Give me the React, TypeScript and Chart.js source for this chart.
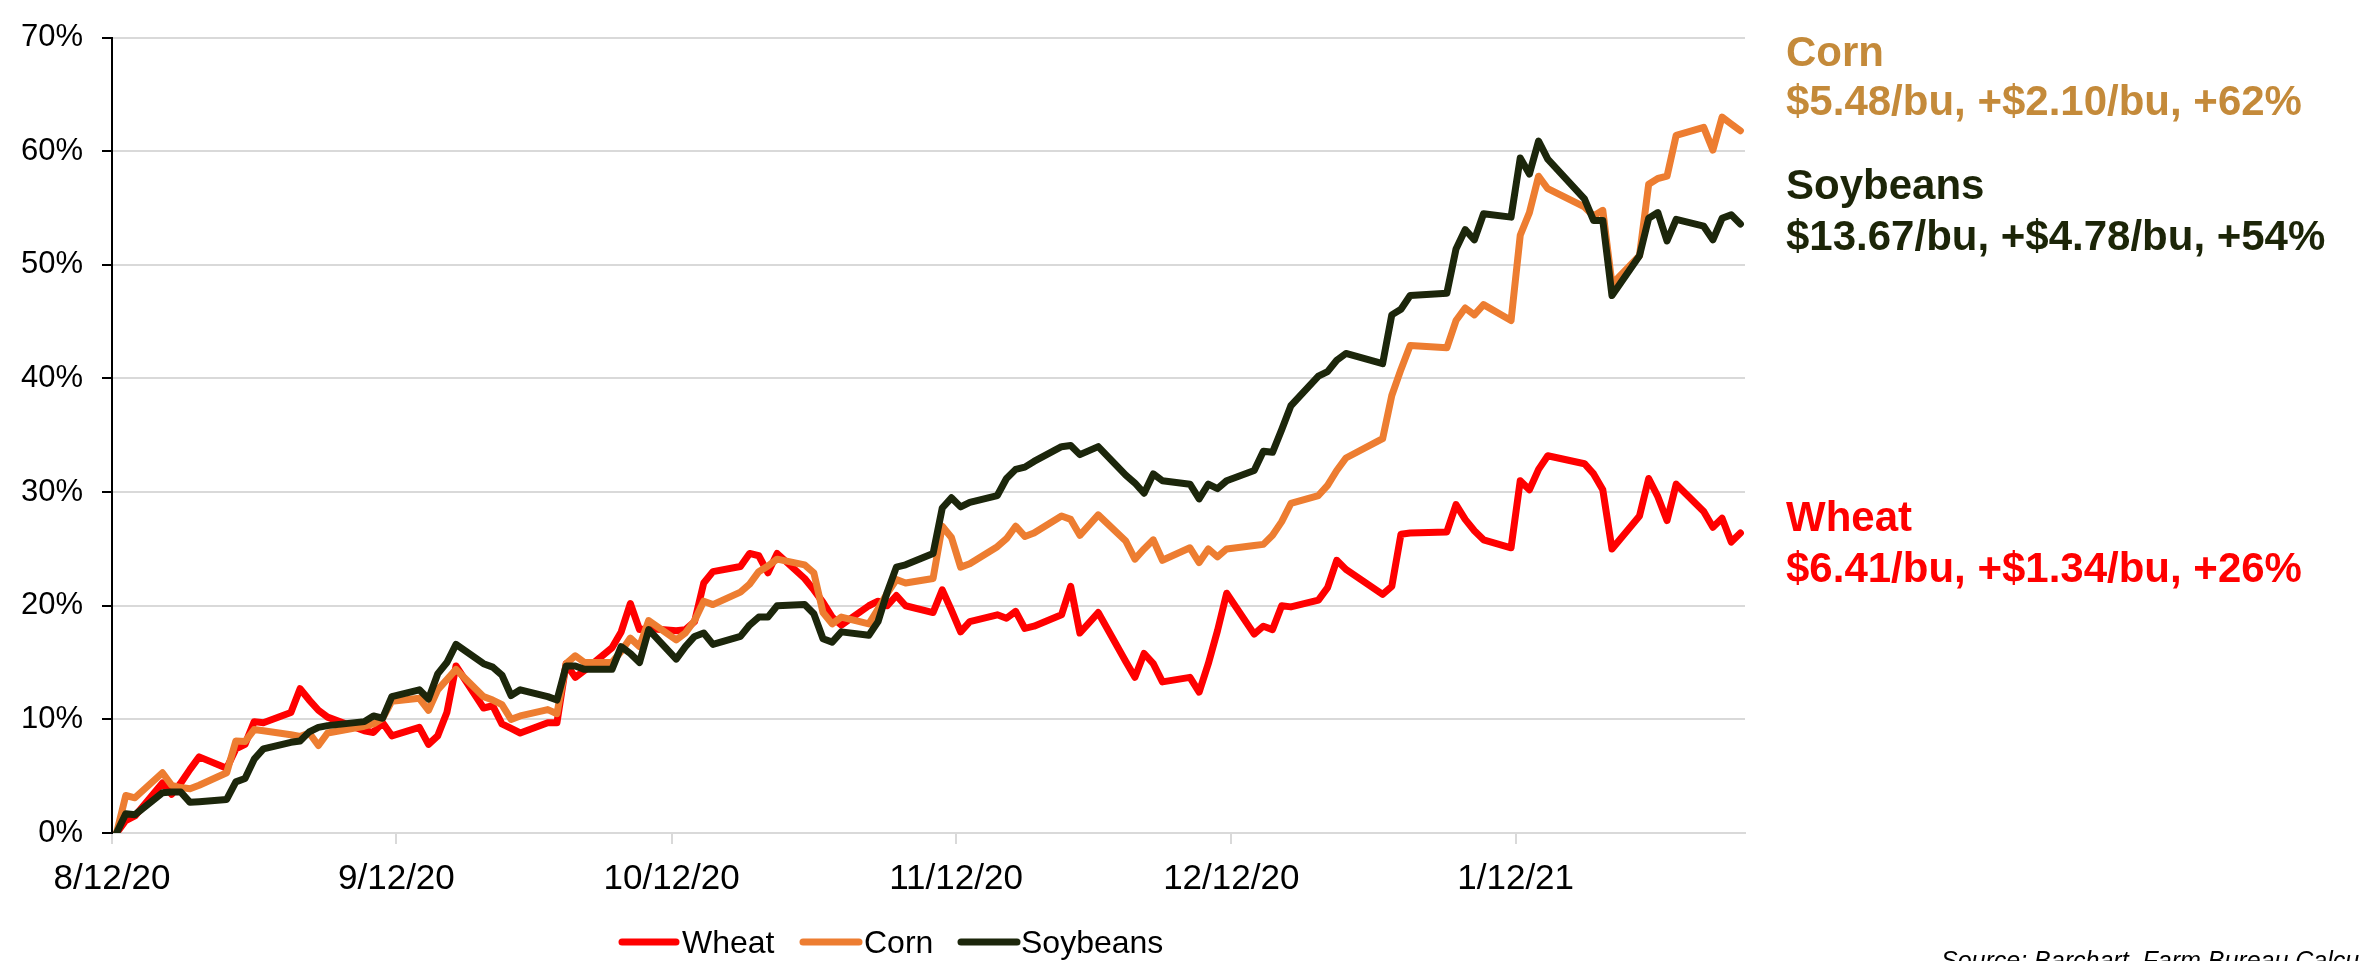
import React, { useEffect, useRef } from "react";
import { Chart, registerables } from "chart.js";

Chart.register(...registerables);

// Day offsets from 8/12/20 (trading days)
const tradingDays = [
  0, 1, 2, 5, 6, 7, 8, 9, 12, 13,
  14, 15, 16, 19, 20, 21, 22, 23, 27, 28,
  29, 30, 33, 34, 35, 36, 37, 40, 41, 42,
  43, 44, 47, 48, 49, 50, 51, 54, 55, 56,
  57, 58, 61, 62, 63, 64, 65, 68, 69, 70,
  71, 72, 75, 76, 77, 78, 79, 82, 83, 84,
  85, 86, 89, 90, 91, 92, 93, 96, 97, 98,
  99, 100, 103, 104, 105, 107, 110, 111, 112, 113,
  114, 117, 118, 119, 120, 121, 124, 125, 126, 127,
  128, 131, 132, 133, 134, 138, 139, 140, 141, 145,
  146, 147, 148, 149, 152, 153, 154, 155, 156, 160,
  161, 162, 163, 166, 167, 168, 169, 170, 173, 174,
  175, 176, 177,
];

const wheat = [
  0, 1.1, 1.5, 4.4, 3.4, 4.4, 5.6, 6.7, 5.7, 7.4,
  7.8, 9.8, 9.7, 10.6, 12.7, 11.7, 10.8, 10.2, 9.0, 8.85,
  9.7, 8.55, 9.3, 7.8, 8.55, 10.6, 14.7, 11.0, 11.2, 9.6,
  9.2, 8.8, 9.7, 9.7, 14.9, 13.7, 14.3, 16.3, 17.7, 20.2,
  17.9, 18.0, 17.8, 17.9, 18.6, 22.0, 23.0, 23.45, 24.6, 24.4,
  22.9, 24.6, 22.4, 21.4, 20.3, 19.0, 18.3, 20.0, 20.4, 20.0,
  20.9, 20.0, 19.4, 21.4, 19.6, 17.7, 18.6, 19.2, 18.9, 19.5,
  18.0, 18.2, 19.2, 21.7, 17.6, 19.4, 15.1, 13.7, 15.8, 14.9,
  13.3, 13.7, 12.4, 14.9, 17.8, 21.1, 17.5, 18.2, 17.9, 20.0,
  19.9, 20.5, 21.6, 24.0, 23.2, 21.0, 21.7, 26.3, 26.4, 26.5,
  28.9, 27.6, 26.6, 25.8, 25.1, 31.0, 30.2, 32.0, 33.2, 32.5,
  31.6, 30.2, 25.0, 27.9, 31.2, 29.6, 27.5, 30.7, 28.3, 26.9,
  27.7, 25.6, 26.4,
];

const corn = [
  0, 3.3, 3.1, 5.3, 4.2, 4.0, 3.9, 4.2, 5.3, 8.1,
  8.05, 9.1, 9.0, 8.65, 8.5, 8.8, 7.7, 8.8, 9.4, 9.6,
  10.1, 11.6, 11.85, 10.8, 12.6, 13.5, 14.4, 12.0, 11.7, 11.3,
  10.0, 10.3, 10.86, 10.5, 14.9, 15.6, 15.0, 15.0, 16.0, 17.15,
  16.4, 18.7, 17.0, 17.6, 18.7, 20.4, 20.1, 21.2, 21.9, 23.0,
  23.5, 24.1, 23.6, 22.9, 19.4, 18.4, 19.0, 18.4, 19.7, 21.1,
  22.3, 22.0, 22.4, 27.0, 26.0, 23.4, 23.7, 25.2, 25.9, 27.0,
  26.1, 26.4, 27.9, 27.6, 26.2, 28.0, 25.7, 24.1, 25.0, 25.8,
  24.0, 25.1, 23.8, 25.0, 24.3, 25.0, 25.3, 25.4, 26.2, 27.4,
  29.0, 29.7, 30.6, 31.9, 33.0, 34.7, 38.5, 40.8, 42.9, 42.7,
  45.1, 46.2, 45.6, 46.5, 45.1, 52.6, 54.6, 57.8, 56.7, 55.1,
  54.3, 54.8, 48.3, 50.8, 57.1, 57.6, 57.8, 61.4, 62.1, 60.1,
  63.0, 62.4, 61.8,
];

const soybeans = [
  0, 1.7, 1.6, 3.55, 3.6, 3.6, 2.7, 2.75, 2.95, 4.5,
  4.8, 6.5, 7.4, 7.98, 8.1, 8.9, 9.3, 9.45, 9.8, 10.3,
  10.1, 12.0, 12.6, 11.8, 14.0, 15.0, 16.6, 14.9, 14.6, 13.9,
  12.1, 12.6, 12.0, 11.7, 14.7, 14.7, 14.4, 14.4, 16.4, 15.8,
  15.0, 17.9, 15.3, 16.4, 17.3, 17.6, 16.6, 17.3, 18.3, 19.0,
  19.0, 20.0, 20.1, 19.3, 17.1, 16.8, 17.7, 17.4, 18.6, 21.2,
  23.4, 23.6, 24.6, 28.6, 29.5, 28.7, 29.1, 29.7, 31.2, 32.0,
  32.2, 32.7, 34.0, 34.1, 33.3, 34.0, 31.5, 30.8, 29.9, 31.6,
  31.0, 30.7, 29.4, 30.7, 30.3, 31.0, 31.9, 33.6, 33.5, 35.5,
  37.6, 40.2, 40.6, 41.6, 42.2, 41.3, 45.6, 46.1, 47.3, 47.5,
  51.4, 53.1, 52.2, 54.5, 54.2, 59.4, 58.0, 60.9, 59.3, 55.8,
  53.9, 53.9, 47.3, 50.8, 54.1, 54.6, 52.1, 54.0, 53.4, 52.2,
  54.1, 54.4, 53.6,
];

const xTickDays = [0, 31, 61, 92, 122, 153];
const xTickLabels = ["8/12/20", "9/12/20", "10/12/20", "11/12/20", "12/12/20", "1/12/21"];

const seriesNames = ["Wheat", "Corn", "Soybeans"];
const seriesColors = ["#FF0000", "#ED7D31", "#1C260B"];

const annotationTitles = ["Corn", "Soybeans", "Wheat"];
const annotationLines = [
  "$5.48/bu, +$2.10/bu, +62%",
  "$13.67/bu, +$4.78/bu, +54%",
  "$6.41/bu, +$1.34/bu, +26%",
];
const annotationColors = ["#C48A3A", "#1C2508", "#FF0000"];

const sourceText = "Source: Barchart, Farm Bureau Calculations";

const FONT = "'Liberation Sans', Arial, Helvetica, sans-serif";

const overlayPlugin = {
  id: "overlay",
  afterDraw(chart: any) {
    const ctx = chart.ctx;
    ctx.save();
    // right-side annotations
    const baselines = [
      [66, 115],
      [199, 250],
      [531, 582],
    ];
    ctx.textAlign = "left";
    ctx.textBaseline = "alphabetic";
    ctx.font = `bold 42px ${FONT}`;
    for (let i = 0; i < annotationTitles.length; i++) {
      ctx.fillStyle = annotationColors[i];
      ctx.fillText(annotationTitles[i], 1786, baselines[i][0]);
      ctx.fillText(annotationLines[i], 1786, baselines[i][1]);
    }
    // legend
    const legendLines = [
      [622, 676, 682],
      [803, 859, 864],
      [961, 1017, 1021],
    ];
    ctx.font = `32px ${FONT}`;
    for (let i = 0; i < seriesNames.length; i++) {
      const [x0, x1, tx] = legendLines[i];
      ctx.strokeStyle = seriesColors[i];
      ctx.lineWidth = 7;
      ctx.lineCap = "round";
      ctx.beginPath();
      ctx.moveTo(x0, 942);
      ctx.lineTo(x1, 942);
      ctx.stroke();
      ctx.fillStyle = "#000";
      ctx.fillText(seriesNames[i], tx, 953);
    }
    // source
    ctx.font = `italic 25px ${FONT}`;
    ctx.fillStyle = "#000";
    ctx.fillText(sourceText, 1941, 969);
    ctx.restore();
  },
};

export default function App() {
  const ref = useRef<HTMLCanvasElement | null>(null);

  useEffect(() => {
    if (!ref.current) return;
    const series = [wheat, corn, soybeans];
    const datasets = series.map((vals, i) => ({
      label: seriesNames[i],
      data: tradingDays.map((d, j) => ({ x: d + 0.5, y: vals[j] })),
      borderColor: seriesColors[i],
      backgroundColor: seriesColors[i],
      borderWidth: 7,
      pointRadius: 0,
      tension: 0,
      fill: false,
      borderJoinStyle: "round" as const,
      borderCapStyle: "round" as const,
      order: 3 - i,
    }));

    const chart = new Chart(ref.current, {
      type: "line",
      data: { datasets },
      plugins: [overlayPlugin],
      options: {
        animation: false,
        responsive: false,
        maintainAspectRatio: false,
        layout: { padding: { left: 0, right: 614, top: 18, bottom: 0 } },
        plugins: {
          legend: { display: false },
          tooltip: { enabled: false },
        },
        scales: {
          x: {
            type: "linear",
            min: 0,
            max: 178,
            afterBuildTicks: (scale: any) => {
              scale.ticks = xTickDays.map((v) => ({ value: v }));
            },
            afterFit: (scale: any) => {
              scale.height = 128;
            },
            ticks: {
              autoSkip: false,
              maxRotation: 0,
              minRotation: 0,
              padding: 14,
              color: "#000",
              font: { family: FONT, size: 35 },
              callback: (v: any) => {
                const idx = xTickDays.indexOf(Number(v));
                return idx >= 0 ? xTickLabels[idx] : "";
              },
            },
            grid: {
              drawOnChartArea: false,
              drawTicks: true,
              tickLength: 11,
              color: "#D9D9D9",
              lineWidth: 2,
            },
            border: { color: "#D9D9D9", width: 2 },
          },
          y: {
            min: 0,
            max: 70,
            afterFit: (scale: any) => {
              scale.width = 112;
            },
            ticks: {
              stepSize: 10,
              padding: 19,
              color: "#000",
              font: { family: FONT, size: 31 },
              callback: (v: any) => `${v}%`,
            },
            grid: {
              color: "#D9D9D9",
              lineWidth: 2,
              tickColor: "#000",
              tickLength: 10,
            },
            border: { color: "#000", width: 2 },
          },
        },
      },
    });
    return () => chart.destroy();
  }, []);

  return (
    <div style={{ position: "fixed", left: 0, top: 0, width: 2359, height: 961, background: "#fff" }}>
      <canvas ref={ref} width={2359} height={961} style={{ display: "block", width: 2359, height: 961 }} />
    </div>
  );
}
